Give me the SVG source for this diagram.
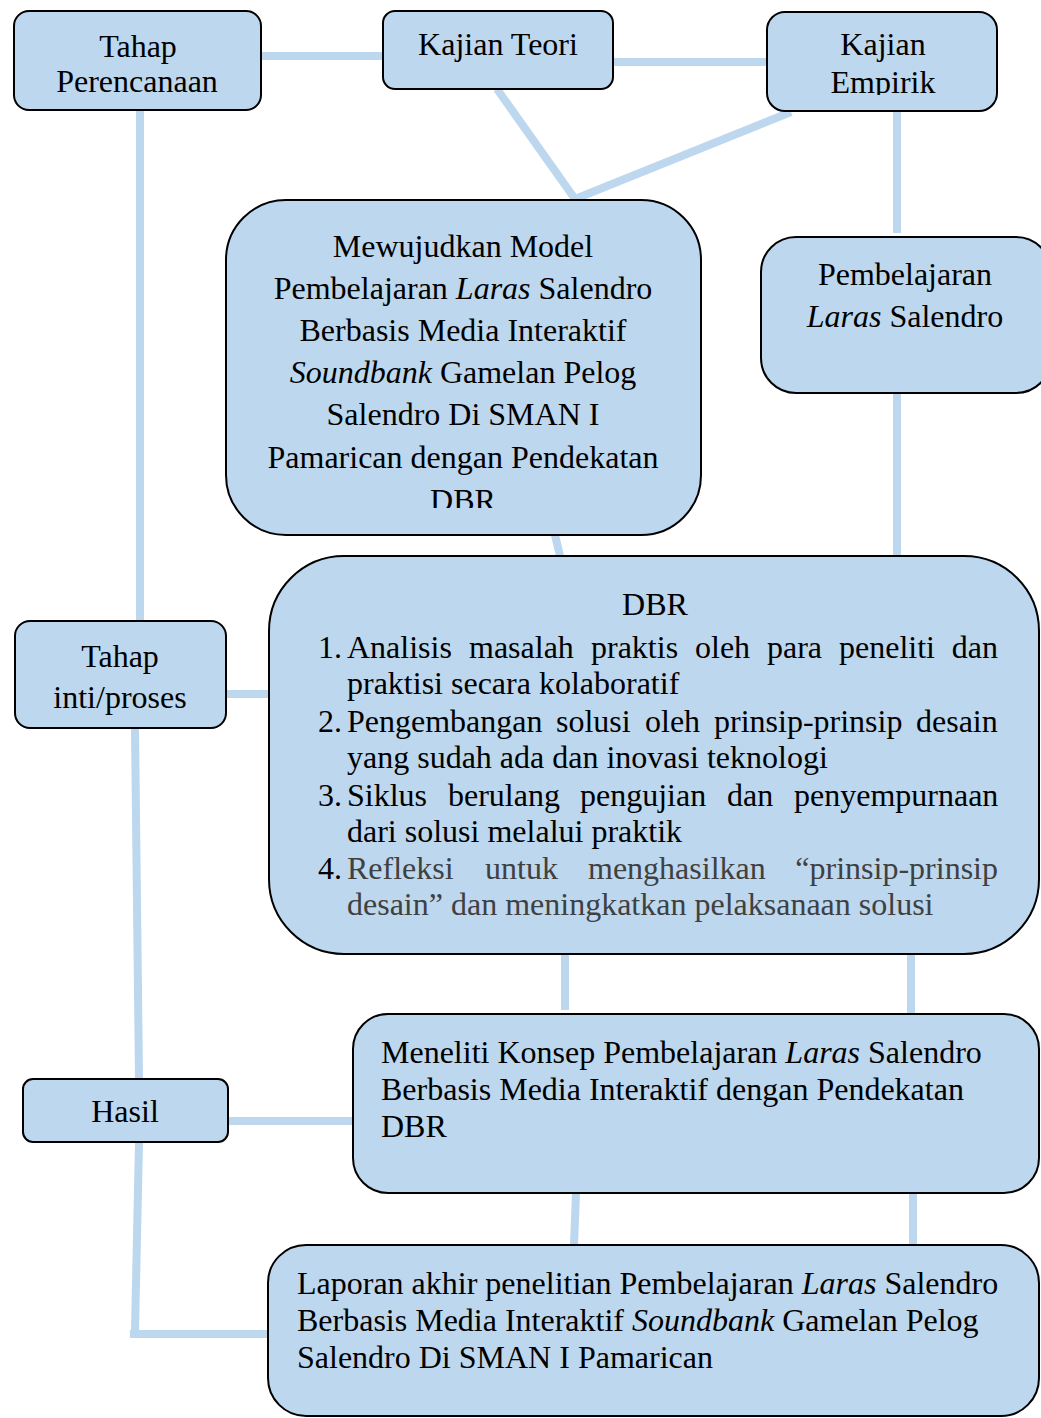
<svg xmlns="http://www.w3.org/2000/svg" width="1041" height="1418" viewBox="0 0 1041 1418">
<style>
.box{fill:#BDD7EE;stroke:#000;stroke-width:2}
.t{font-family:"Liberation Serif","Times New Roman",serif;font-size:32px;fill:#000}
.c{text-anchor:middle}
.g{fill:#404040}
.i{font-style:italic}
#connectors line{stroke:#BDD7EE;stroke-width:8;fill:none}
</style>
<defs>
<clipPath id="clipEmp"><rect x="760" y="0" width="250" height="95"/></clipPath>
<clipPath id="clipMew"><rect x="220" y="200" width="490" height="308"/></clipPath>
</defs>
<rect width="1041" height="1418" fill="#fff"/>
<g id="connectors">
<line x1="261" y1="56" x2="383" y2="56"/>
<line x1="613" y1="62" x2="767" y2="62"/>
<line x1="497" y1="89" x2="575" y2="199"/>
<line x1="791" y1="112" x2="575" y2="199"/>
<line x1="897" y1="111" x2="897" y2="233"/>
<line x1="897" y1="393" x2="897" y2="556"/>
<line x1="555" y1="535" x2="560" y2="556"/>
<line x1="140" y1="110" x2="140" y2="621"/>
<line x1="226" y1="694" x2="269" y2="694"/>
<line x1="135" y1="728" x2="139" y2="1079"/>
<line x1="228" y1="1121" x2="353" y2="1121"/>
<line x1="139" y1="1142" x2="135" y2="1331"/>
<line x1="130" y1="1334" x2="268" y2="1334"/>
<line x1="565" y1="954" x2="565" y2="1010"/>
<line x1="911" y1="954" x2="911" y2="1014"/>
<line x1="576" y1="1193" x2="574" y2="1245"/>
<line x1="913" y1="1193" x2="913" y2="1245"/>
</g>
<g id="tahap-perencanaan">
<rect class="box" x="14" y="11" width="247" height="99" rx="15"/>
<text class="t c" x="138" y="57">Tahap</text>
<text class="t c" x="137" y="92">Perencanaan</text>
</g>
<g id="kajian-teori">
<rect class="box" x="383" y="11" width="230" height="78" rx="12"/>
<text class="t c" x="498" y="55">Kajian Teori</text>
</g>
<g id="kajian-empirik">
<rect class="box" x="767" y="12" width="230" height="99" rx="18"/>
<g clip-path="url(#clipEmp)">
<text class="t c" x="883" y="55">Kajian</text>
<text class="t c" x="883" y="93">Empirik</text>
</g>
</g>
<g id="mewujudkan">
<rect class="box" x="226" y="200" width="475" height="335" rx="60"/>
<g clip-path="url(#clipMew)">
<text class="t c" x="463" y="257">Mewujudkan Model</text>
<text class="t c" x="463" y="299">Pembelajaran <tspan class="i">Laras</tspan> Salendro</text>
<text class="t c" x="463" y="341">Berbasis Media Interaktif</text>
<text class="t c" x="463" y="383"><tspan class="i">Soundbank</tspan> Gamelan Pelog</text>
<text class="t c" x="463" y="425">Salendro Di SMAN I</text>
<text class="t c" x="463" y="468">Pamarican dengan Pendekatan</text>
<text class="t c" x="463" y="511">DBR</text>
</g>
</g>
<g id="pembelajaran">
<rect class="box" x="761" y="237" width="290" height="156" rx="35"/>
<text class="t c" x="905" y="285">Pembelajaran</text>
<text class="t c" x="905" y="327"><tspan class="i">Laras</tspan> Salendro</text>
</g>
<g id="tahap-inti">
<rect class="box" x="15" y="621" width="211" height="107" rx="15"/>
<text class="t c" x="120" y="667">Tahap</text>
<text class="t c" x="120" y="708">inti/proses</text>
</g>
<g id="dbr">
<rect class="box" x="269" y="556" width="770" height="398" rx="75"/>
<text class="t c" x="655" y="615">DBR</text>
<text class="t" x="318" y="658">1.</text>
<text class="t" y="658"><tspan x="347">Analisis</tspan><tspan x="469">masalah</tspan><tspan x="591">praktis</tspan><tspan x="695">oleh</tspan><tspan x="767">para</tspan><tspan x="839">peneliti</tspan><tspan x="998" text-anchor="end">dan</tspan></text>
<text class="t" x="347" y="694">praktisi secara kolaboratif</text>
<text class="t" x="318" y="732">2.</text>
<text class="t" y="732"><tspan x="347">Pengembangan</tspan><tspan x="556">solusi</tspan><tspan x="645">oleh</tspan><tspan x="714">prinsip-prinsip</tspan><tspan x="916">desain</tspan></text>
<text class="t" x="347" y="768">yang sudah ada dan inovasi teknologi</text>
<text class="t" x="318" y="806">3.</text>
<text class="t" y="806"><tspan x="347">Siklus</tspan><tspan x="448">berulang</tspan><tspan x="580">pengujian</tspan><tspan x="727">dan</tspan><tspan x="794">penyempurnaan</tspan></text>
<text class="t" x="347" y="842">dari solusi melalui praktik</text>
<text class="t" x="318" y="879">4.</text>
<text class="t g" y="879"><tspan x="347">Refleksi</tspan><tspan x="485">untuk</tspan><tspan x="588">menghasilkan</tspan><tspan x="998" text-anchor="end">“prinsip-prinsip</tspan></text>
<text class="t g" x="347" y="915">desain” dan meningkatkan pelaksanaan solusi</text>
</g>
<g id="hasil">
<rect class="box" x="23" y="1079" width="205" height="63" rx="10"/>
<text class="t c" x="125" y="1122">Hasil</text>
</g>
<g id="meneliti">
<rect class="box" x="353" y="1014" width="686" height="179" rx="35"/>
<text class="t" x="381" y="1063">Meneliti Konsep Pembelajaran <tspan class="i">Laras</tspan> Salendro</text>
<text class="t" x="381" y="1100">Berbasis Media Interaktif dengan Pendekatan</text>
<text class="t" x="381" y="1137">DBR</text>
</g>
<g id="laporan">
<rect class="box" x="268" y="1245" width="771" height="171" rx="38"/>
<text class="t" x="297" y="1294">Laporan akhir penelitian Pembelajaran <tspan class="i">Laras</tspan> Salendro</text>
<text class="t" x="297" y="1331">Berbasis Media Interaktif <tspan class="i">Soundbank</tspan> Gamelan Pelog</text>
<text class="t" x="297" y="1368">Salendro Di SMAN I Pamarican</text>
</g>
</svg>
